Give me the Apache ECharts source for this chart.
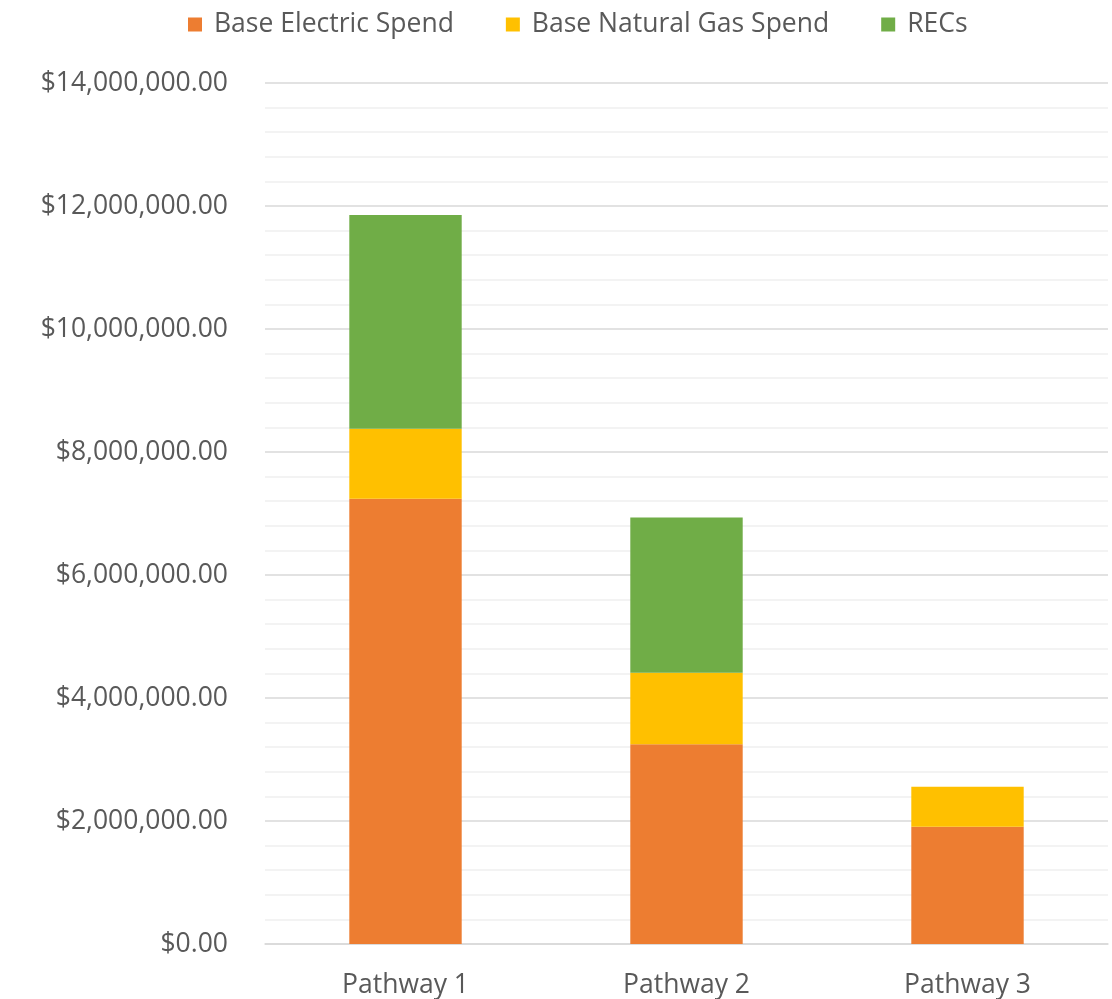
<!DOCTYPE html>
<html>
<head>
<meta charset="utf-8">
<script src="https://cdn.jsdelivr.net/npm/echarts@6/dist/echarts.min.js"></script>
<style>
  html, body { margin: 0; padding: 0; background: #fff; }
  #chart { width: 1112px; height: 999px; }
</style>
</head>
<body>
<div id="chart"></div>
<script>
const categories = ['Pathway 1', 'Pathway 2', 'Pathway 3'];
const electricSpend = [7240000, 3250000, 1905000];
const gasSpend = [1140000, 1160000, 650000];
const recs = [3475000, 2525000, 0];
const seriesNames = ['Base Electric Spend', 'Base Natural Gas Spend', 'RECs'];
const colors = ['#ED7D31', '#FFC000', '#70AD47'];

const FONT = 'Open Sans';
const FS = 26.5;
const chart = echarts.init(document.getElementById('chart'));

const money = v => '$' + v.toLocaleString('en-US', {minimumFractionDigits: 2, maximumFractionDigits: 2});

chart.setOption({
  color: colors,
  animation: false,
  textStyle: {fontFamily: FONT},
  legend: {
    top: 6,
    left: 183,
    itemWidth: 14,
    itemHeight: 14,
    itemGap: 52,
    icon: 'rect',
    textStyle: {fontSize: FS, color: '#595959', fontFamily: FONT, padding: [0, 0, 0, 7]},
    data: seriesNames
  },
  grid: {left: 265, right: 4, top: 83, bottom: 55, containLabel: false},
  xAxis: {
    type: 'category',
    data: categories,
    axisLine: {lineStyle: {color: '#d9d9d9', width: 1.5}},
    axisTick: {show: false},
    axisLabel: {fontSize: FS, color: '#595959', margin: 28, fontFamily: FONT}
  },
  yAxis: {
    type: 'value',
    min: 0,
    max: 14000000,
    interval: 2000000,
    axisLine: {show: false},
    axisTick: {show: false},
    axisLabel: {fontSize: FS, color: '#595959', margin: 37, fontFamily: FONT, formatter: money},
    splitLine: {lineStyle: {color: '#d9d9d9', width: 1.5}},
    minorTick: {show: false, splitNumber: 5},
    minorSplitLine: {show: true, lineStyle: {color: '#f0f0f0', width: 1.5}}
  },
  series: [
    {name: seriesNames[0], type: 'bar', stack: 'total', barWidth: '40%', data: electricSpend},
    {name: seriesNames[1], type: 'bar', stack: 'total', data: gasSpend},
    {name: seriesNames[2], type: 'bar', stack: 'total', data: recs}
  ]
});
</script>
</body>
</html>
